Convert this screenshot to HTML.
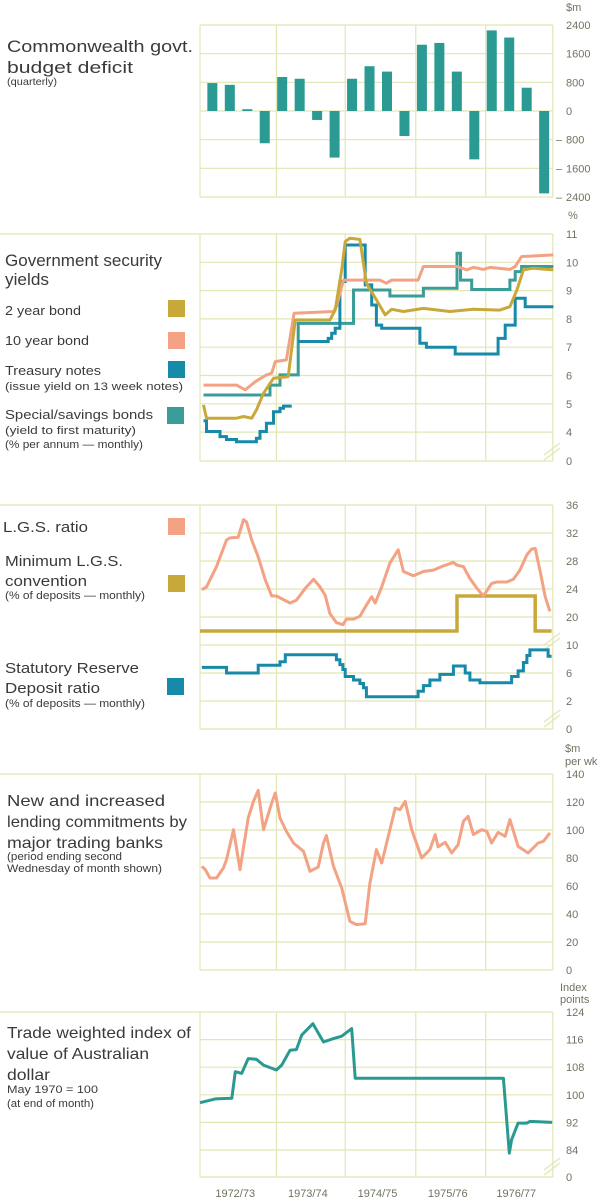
<!DOCTYPE html>
<html><head><meta charset="utf-8"><style>
html,body{margin:0;padding:0;background:#fff}
svg{display:block}
svg text{font-family:"Liberation Sans",sans-serif}
</style></head><body>
<svg id="c" width="600" height="1202" viewBox="0 0 600 1202" xmlns="http://www.w3.org/2000/svg" font-family="Liberation Sans, sans-serif">
<g id="grid"></g>
<g id="marks"></g>
<g id="labels" fill="#3a3a3a">
 <text x="7" y="52" font-size="17" textLength="186" lengthAdjust="spacingAndGlyphs">Commonwealth govt.</text>
 <text x="7" y="73" font-size="17" textLength="126" lengthAdjust="spacingAndGlyphs">budget deficit</text>
 <text x="7" y="85" font-size="10.5" textLength="50" lengthAdjust="spacingAndGlyphs">(quarterly)</text>

 <text x="5" y="266" font-size="16.5" textLength="157" lengthAdjust="spacingAndGlyphs">Government security</text>
 <text x="5" y="285" font-size="16.5" textLength="44" lengthAdjust="spacingAndGlyphs">yields</text>
 <text x="5" y="315" font-size="13" textLength="76" lengthAdjust="spacingAndGlyphs">2 year bond</text>
 <text x="5" y="345" font-size="13" textLength="84" lengthAdjust="spacingAndGlyphs">10 year bond</text>
 <text x="5" y="375" font-size="13" textLength="96" lengthAdjust="spacingAndGlyphs">Treasury notes</text>
 <text x="5" y="390" font-size="11" textLength="178" lengthAdjust="spacingAndGlyphs">(issue yield on 13 week notes)</text>
 <text x="5" y="419" font-size="13" textLength="148" lengthAdjust="spacingAndGlyphs">Special/savings bonds</text>
 <text x="5" y="434" font-size="11" textLength="131" lengthAdjust="spacingAndGlyphs">(yield to first maturity)</text>
 <text x="5" y="448" font-size="11" textLength="138" lengthAdjust="spacingAndGlyphs">(% per annum — monthly)</text>
 <rect x="168" y="300" width="17" height="17" fill="#c9a83a"/>
 <rect x="168" y="332" width="17" height="17" fill="#f3a283"/>
 <rect x="168" y="361" width="17" height="17" fill="#168aa8"/>
 <rect x="167" y="407" width="17" height="17" fill="#3a9d98"/>

 <text x="3" y="532" font-size="15" textLength="85" lengthAdjust="spacingAndGlyphs">L.G.S. ratio</text>
 <text x="5" y="566" font-size="15" textLength="118" lengthAdjust="spacingAndGlyphs">Minimum L.G.S.</text>
 <text x="5" y="586" font-size="15" textLength="82" lengthAdjust="spacingAndGlyphs">convention</text>
 <text x="5" y="599" font-size="11" textLength="140" lengthAdjust="spacingAndGlyphs">(% of deposits — monthly)</text>
 <text x="5" y="673" font-size="15" textLength="134" lengthAdjust="spacingAndGlyphs">Statutory Reserve</text>
 <text x="5" y="693" font-size="15" textLength="95" lengthAdjust="spacingAndGlyphs">Deposit ratio</text>
 <text x="5" y="707" font-size="11" textLength="140" lengthAdjust="spacingAndGlyphs">(% of deposits — monthly)</text>
 <rect x="168" y="518" width="17" height="17" fill="#f3a283"/>
 <rect x="168" y="575" width="17" height="17" fill="#c9a83a"/>
 <rect x="167" y="678" width="17" height="17" fill="#168aa8"/>

 <text x="7" y="806" font-size="16" textLength="158" lengthAdjust="spacingAndGlyphs">New and increased</text>
 <text x="7" y="827" font-size="16" textLength="180" lengthAdjust="spacingAndGlyphs">lending commitments by</text>
 <text x="7" y="848" font-size="16" textLength="156" lengthAdjust="spacingAndGlyphs">major trading banks</text>
 <text x="7" y="860" font-size="11" textLength="115" lengthAdjust="spacingAndGlyphs">(period ending second</text>
 <text x="7" y="872" font-size="11" textLength="155" lengthAdjust="spacingAndGlyphs">Wednesday of month shown)</text>

 <text x="7" y="1038" font-size="16" textLength="184" lengthAdjust="spacingAndGlyphs">Trade weighted index of</text>
 <text x="7" y="1059" font-size="16" textLength="142" lengthAdjust="spacingAndGlyphs">value of Australian</text>
 <text x="7" y="1080" font-size="16" textLength="43" lengthAdjust="spacingAndGlyphs">dollar</text>
 <text x="7" y="1093" font-size="11" textLength="91" lengthAdjust="spacingAndGlyphs">May 1970 = 100</text>
 <text x="7" y="1107" font-size="11" textLength="87" lengthAdjust="spacingAndGlyphs">(at end of month)</text>
</g>
<g id="ticks" fill="#6b7560" font-size="11" font-family="Liberation Sans, sans-serif">
 <text x="566" y="11">$m</text>
 <text x="568" y="219">%</text>
 <text x="565" y="752">$m</text>
 <text x="565" y="765">per wk</text>
 <text x="560" y="991">Index</text>
 <text x="560" y="1003">points</text>
</g>
</svg>
<script>
// ---------- data ----------
const gridMonths = [0, 13, 24.7, 36.7, 48.6, 60];
const yearLabels = ["1972/73", "1973/74", "1974/75", "1975/76", "1976/77"];

const budgetQuarters = [0,1,2,3,4,5,6,7,8,9,10,11,12,13,14,15,16,17,18,19];
const budgetValues = [780,730,50,-900, 950,900,-250,-1300, 900,1250,1100,-700, 1850,1900,1100,-1350, 2250,2050,650,-2300];
const budgetTicks = [2400,1600,800,0,-800,-1600,-2400];

const bond10Months = [0.6,6.2,7.7,9.4,11.3,12.2,12.8,14.7,16.0,22.7,23.2,24.4,30.6,31.7,32.6,37.1,38.0,43.7,45.4,46.5,48.2,49.3,52.7,53.6,54.7,60.1];
const bond10Values = [5.66,5.66,5.49,5.78,6.02,6.08,6.49,6.55,8.2,8.26,8.43,9.37,9.37,9.26,9.37,9.37,9.85,9.85,9.73,9.82,9.75,9.82,9.75,9.85,10.2,10.26];

const bond2Months = [0.6,1.1,6.2,7.4,8.8,9.6,10.8,12.5,15.0,16.2,22.1,23.0,24.1,24.7,25.5,27.2,28.3,30.0,31.5,32.6,34.6,38.0,42.5,46.5,51.0,52.7,53.9,55.0,56.7,60.1];
const bond2Values = [4.96,4.49,4.49,4.55,4.49,4.78,5.37,5.9,5.96,7.96,7.96,8.31,9.73,10.73,10.85,10.81,9.26,8.67,8.14,8.34,8.26,8.37,8.26,8.34,8.31,8.43,9.02,9.73,9.79,9.73];

const tnote1Months = [0.6,1.1,3.4,4.5,6.2,9.6,10.2,11.3,12.5,13.6,14.2,15.6];
const tnote1Values = [4.40,4.02,3.84,3.74,3.66,3.78,4.02,4.31,4.72,4.84,4.92,4.92];
const tnote2Months = [16.7,21.8,22.4,23.0,23.8,24.7,28.1,29.2,30.0,30.9,37.4,38.5,43.4,50.7,51.9,53.6,55.3,60.1];
const tnote2Values = [7.20,7.31,7.49,7.67,9.32,10.61,9.2,8.49,7.78,7.67,7.14,7.0,6.76,7.31,7.78,8.73,8.43,8.43];

const specialMonths = [0.6,11.9,13.6,16.7,26.1,32.3,38.0,43.7,44.3,46.2,52.7,53.6,54.7,60.1];
const specialValues = [5.31,5.66,6.02,7.84,9.02,8.81,9.08,10.32,9.37,9.04,9.37,9.67,9.85,9.85];
const yieldTicks = [11,10,9,8,7,6,5,4];

const lgsMonths = [0.3,1.1,2.8,4.5,5.1,6.5,7.4,7.9,8.8,9.9,11.1,12.2,13.0,15.3,16.4,17.9,19.3,20.4,21.3,22.1,23.2,24.3,24.9,26.1,27.2,28.3,29.2,29.8,30.9,32.3,33.7,34.6,36.3,38.0,39.7,41.4,43.1,43.7,44.8,45.9,47.1,48.2,49.6,50.5,52.2,53.3,54.4,55.6,56.4,57.0,57.8,58.7,59.5];
const lgsValues = [23.9,24.3,27.2,31.0,31.3,31.4,33.9,33.6,31.0,28.6,25.3,23.0,23.0,22.0,22.4,24.1,25.4,24.3,23.1,20.5,19.2,18.9,19.7,19.7,20.1,21.7,22.9,22.0,24.3,27.7,29.6,26.5,25.9,26.5,26.7,27.3,27.8,27.4,27.2,25.5,24.1,23.0,24.8,25.0,25.0,25.4,26.7,28.9,29.7,29.8,26.7,22.9,20.8];

const minLgsMonths = [0, 43.7, 57.0, 59.8];
const minLgsValues = [18, 23, 18, 18];

const srdMonths = [0.3,4.5,9.9,13.6,14.5,23.2,23.8,24.3,24.7,26.1,27.2,27.8,28.3,37.1,38.0,39.1,40.8,43.1,45.1,45.9,47.6,53.0,54.1,55.0,55.6,56.1,59.2,59.8];
const srdValues = [6.8,6.0,7.1,7.6,8.6,7.9,7.2,6.5,5.5,5.0,4.5,3.9,2.6,3.4,4.2,5.0,5.8,7.0,6.0,5.0,4.6,5.5,6.3,7.5,8.5,9.3,8.4,8.4];
const lgsTicks = [36,32,28,24,20];
const srdTicks = [10,6,2];

const lendMonths = [0.3,0.9,1.7,2.8,4.0,4.5,5.7,6.8,8.2,9.1,9.9,10.8,12.2,12.8,13.6,14.7,15.9,17.6,18.7,20.1,21.0,21.5,22.7,24.1,25.5,26.6,28.1,28.9,30.0,30.9,32.3,33.2,34.0,34.9,36.0,37.7,39.1,40.0,40.5,41.7,42.8,43.9,44.8,45.6,46.5,47.9,48.8,49.6,50.7,51.9,52.7,54.1,55.8,57.5,58.4,59.5];
const lendValues = [74,71.7,65.7,65.7,72.9,78.8,100.2,71.7,108.6,120.5,128.3,100.2,119.3,126.4,108.6,99.0,90.7,84.8,70.5,73.6,90.7,96.0,74.0,58.6,34.8,32.4,33.1,62.1,86.0,76.4,100.2,115.7,114.5,120.5,100.2,80.0,86.0,96.7,87.9,91.2,83.6,89.5,106.2,109.8,96.7,100.2,99.0,90.7,98.3,95.5,107.4,88.3,83.6,90.7,91.9,97.9];
const lendTicks = [140,120,100,80,60,40,20,0];

const twiMonths = [0,2.6,5.4,6.0,7.1,8.2,9.6,10.8,13.0,13.9,15.3,16.4,17.3,19.2,21.0,22.7,24.1,25.8,26.4,51.6,52.6,53.0,54.1,55.6,56.1,59.9];
const twiValues = [97.7,98.8,99.0,106.7,106.2,110.5,110.3,108.6,107.2,108.6,112.9,113.1,117.3,120.6,115.3,116.3,117.0,119.2,104.8,104.8,83.1,87.0,91.8,91.8,92.3,92.0];
const twiTicks = [124,116,108,100,92,84];

// ---------- scales ----------
const X = m => 200 + m * 5.88;
const budgetY = v => 111 - v * 0.03583;
const yieldY = v => 234 + (11 - v) * 28.3;
const lgsY = v => 505 + (36 - v) * 7;
const srdY = v => 645 + (10 - v) * 7;
const lendY = v => 774 + (140 - v) * 1.4;
const twiY = v => 1012 + (124 - v) * 3.45;

const NS = "http://www.w3.org/2000/svg";
const grid = document.getElementById("grid");
const marks = document.getElementById("marks");
const ticks = document.getElementById("ticks");
function mk(tag, attrs, parent) {
  const e = document.createElementNS(NS, tag);
  for (const k in attrs) e.setAttribute(k, attrs[k]);
  parent.appendChild(e);
  return e;
}
const GC = "#e2e6b4";

function hline(y, x0, name) {
  const l = mk("line", {x1: x0, x2: X(60), y1: y, y2: y, stroke: GC, "stroke-width": 1.2}, grid);
  
  
}
function vlines(y0, y1, name) {
  gridMonths.forEach(m => {
    const l = mk("line", {x1: X(m), x2: X(m), y1: y0, y2: y1, stroke: GC, "stroke-width": 1.2}, grid);
    
    
  });
}
function tick(y, label, neg, name) {
  const t = mk("text", {x: 566, y: y + 4, "font-family": "Liberation Sans, sans-serif"}, ticks);
  t.textContent = label;
  
  
  if (neg) {
    const d = mk("text", {x: 556, y: y + 4, "font-family": "Liberation Sans, sans-serif"}, ticks);
    d.textContent = "–";
    
    
  }
}
function brk(y, name) {
  const g = mk("g", {stroke: GC, "stroke-width": 1.3}, grid);
  
  
  mk("line", {x1: 544, y1: y + 6, x2: 560, y2: y - 6}, g);
  mk("line", {x1: 544, y1: y + 11, x2: 560, y2: y - 1}, g);
}
function lineSeries(ms, vs, sc, color, w, name) {
  const d = ms.map((m, i) => (i ? "L" : "M") + X(m).toFixed(1) + "," + sc(vs[i]).toFixed(1)).join("");
  const p = mk("path", {d: d, fill: "none", stroke: color, "stroke-width": w, "stroke-linejoin": "round"}, marks);
  
  
}
function stepSeries(ms, vs, sc, color, w, name) {
  let d = "M" + X(ms[0]).toFixed(1) + "," + sc(vs[0]).toFixed(1);
  for (let i = 1; i < ms.length; i++) {
    d += "H" + X(ms[i]).toFixed(1) + "V" + sc(vs[i]).toFixed(1);
  }
  const p = mk("path", {d: d, fill: "none", stroke: color, "stroke-width": w}, marks);
  
  
}

// Panel 1: budget deficit
budgetTicks.forEach(v => { hline(budgetY(v), 200, "budget-gridline"); tick(budgetY(v), String(Math.abs(v)), v < 0, "budget-tick"); });
vlines(budgetY(2400), budgetY(-2400), "budget-year-gridline");
budgetQuarters.forEach((q, i) => {
  const v = budgetValues[i];
  const cx = X(2.1 + q * 2.97);
  const r = mk("rect", {x: cx - 5, y: Math.min(budgetY(v), budgetY(0)), width: 10, height: Math.abs(budgetY(v) - budgetY(0)), fill: "#2a9a92"}, marks);
  
  
});

// Panel 2: yields
yieldTicks.forEach((v, i) => { hline(yieldY(v), i === 0 ? 0 : 200, "yield-gridline"); tick(yieldY(v), String(v), false, "yield-tick"); });
hline(461, 200, "yield-baseline"); tick(461, "0", false, "yield-tick-zero");
vlines(yieldY(11), 461, "yield-year-gridline");
brk(449, "yield-axis-break");
stepSeries(specialMonths, specialValues, yieldY, "#3a9d98", 3, "special-bonds-line");
stepSeries(tnote1Months, tnote1Values, yieldY, "#168aa8", 3, "treasury-notes-line-1");
stepSeries(tnote2Months, tnote2Values, yieldY, "#168aa8", 3, "treasury-notes-line-2");
lineSeries(bond10Months, bond10Values, yieldY, "#f3a283", 3, "bond-10yr-line");
lineSeries(bond2Months, bond2Values, yieldY, "#c9a83a", 3, "bond-2yr-line");

// Panel 3: LGS / SRD
lgsTicks.forEach((v, i) => { hline(lgsY(v), i === 0 ? 0 : 200, "lgs-gridline"); tick(lgsY(v), String(v), false, "lgs-tick"); });
srdTicks.forEach(v => { hline(srdY(v), 200, "srd-gridline"); tick(srdY(v), String(v), false, "srd-tick"); });
hline(729, 200, "srd-baseline"); tick(729, "0", false, "srd-tick-zero");
vlines(lgsY(36), 729, "lgs-year-gridline");
brk(639, "lgs-axis-break"); brk(716, "srd-axis-break");
stepSeries(minLgsMonths, minLgsValues, lgsY, "#c9a83a", 3.5, "min-lgs-line");
lineSeries(lgsMonths, lgsValues, lgsY, "#f3a283", 3, "lgs-ratio-line");
stepSeries(srdMonths, srdValues, srdY, "#168aa8", 3, "srd-ratio-line");

// Panel 4: lending
lendTicks.forEach((v, i) => { hline(lendY(v), i === 0 ? 0 : 200, "lending-gridline"); tick(lendY(v), String(v), false, "lending-tick"); });
vlines(lendY(140), lendY(0), "lending-year-gridline");
lineSeries(lendMonths, lendValues, lendY, "#f3a283", 3, "lending-line");

// Panel 5: TWI
twiTicks.forEach((v, i) => { hline(twiY(v), i === 0 ? 0 : 200, "twi-gridline"); tick(twiY(v), String(v), false, "twi-tick"); });
hline(1177, 200, "twi-baseline"); tick(1177, "0", false, "twi-tick-zero");
vlines(twiY(124), 1177, "twi-year-gridline");
brk(1164, "twi-axis-break");
lineSeries(twiMonths, twiValues, twiY, "#2a9a90", 3, "twi-line");

// year labels
yearLabels.forEach((s, i) => {
  const t = mk("text", {x: (X(gridMonths[i]) + X(gridMonths[i + 1])) / 2 - 3, y: 1197, "text-anchor": "middle", "font-family": "Liberation Sans, sans-serif"}, ticks);
  t.textContent = s;
  
  
});
</script>
</body></html>
